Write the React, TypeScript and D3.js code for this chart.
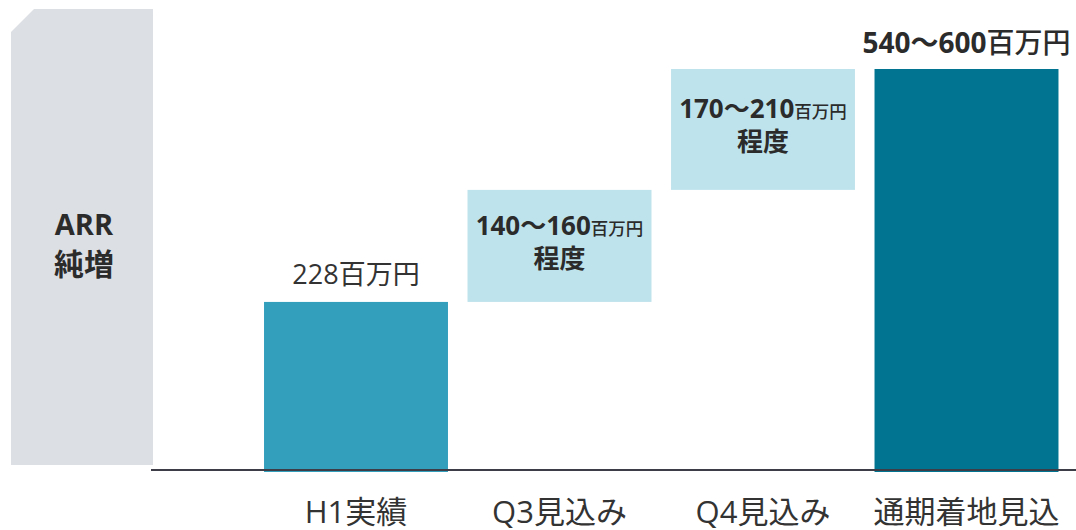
import React from "react";
import * as d3 from "d3";

const categories = ["H1実績", "Q3見込み", "Q4見込み", "通期着地見込"];
const increments = [228, 152, 164, 544];
const isTotal = [false, false, false, true];
const labelMain = ["228", "140～160", "170～210", "540～600"];
const labelUnit = ["百万円", "百万円", "百万円", "百万円"];
const labelSub = ["", "程度", "程度", ""];
const colors = ["#349FBD", "#BFE3EC", "#BFE3EC", "#007490"];

const W = 1076;
const H = 530;
const FONT = "'Open Sans', 'Noto Sans CJK JP', sans-serif";

export default function App() {
  const x = d3
    .scaleBand<string>()
    .domain(categories)
    .range([254.25, 1068.25])
    .paddingInner(0.096)
    .paddingOuter(0.048);
  const y = d3.scaleLinear().domain([0, 544]).range([470, 69]);

  let running = 0;
  const bars = categories.map((c, i) => {
    let y0: number, y1: number;
    if (isTotal[i]) {
      y0 = 0;
      y1 = increments[i];
    } else {
      y0 = running;
      y1 = running + increments[i];
      running = y1;
    }
    return { c, i, y0, y1 };
  });

  return (
    <svg width={W} height={H} style={{ position: "absolute", left: 0, top: 0, display: "block" }}>
      <rect width={W} height={H} fill="#ffffff" />
      {/* left panel */}
      <path d="M11,32 L34,9 L153,9 L153,465 L11,465 Z" fill="#DCDFE4" />
      <text x={84} y={235} textAnchor="middle" fontFamily={FONT} fontWeight={700} fontSize={29} fill="#2b2b2b">
        ARR
      </text>
      <text x={84} y={275} textAnchor="middle" fontFamily={FONT} fontWeight={700} fontSize={30} fill="#2b2b2b">
        純増
      </text>

      {bars.map((b) => {
        const bx = x(b.c)!;
        const bw = x.bandwidth();
        const top = y(b.y1);
        const bottom = b.y0 === 0 ? 472 : y(b.y0);
        return (
          <rect key={b.c} x={bx} y={top} width={bw} height={bottom - top} fill={colors[b.i]} />
        );
      })}

      <line x1={151} x2={W} y1={470} y2={470} stroke="#3d3d47" strokeWidth={2} />

      {bars.map((b) => {
        const cx = x(b.c)! + x.bandwidth() / 2;
        const top = y(b.y1);
        const bottom = y(b.y0);
        if (b.i === 0) {
          return (
            <text key={"l" + b.c} x={cx} y={top - 18} textAnchor="middle" fontFamily={FONT} fontSize={27} fill="#333">
              {labelMain[b.i]}
              {labelUnit[b.i]}
            </text>
          );
        }
        if (isTotal[b.i]) {
          return (
            <text key={"l" + b.c} x={cx} y={top - 16} textAnchor="middle" fontFamily={FONT} fontWeight={700} fontSize={28} fill="#2b2b2b">
              {labelMain[b.i]}
              <tspan fontWeight={500}>{labelUnit[b.i]}</tspan>
            </text>
          );
        }
        const mid = (top + bottom) / 2;
        return (
          <g key={"l" + b.c}>
            <text x={cx} y={mid - 11} textAnchor="middle" fontFamily={FONT} fontWeight={700} fontSize={26} fill="#2b2b2b">
              {labelMain[b.i]}
              <tspan fontSize={17.5} fontWeight={500}>{labelUnit[b.i]}</tspan>
            </text>
            <text x={cx} y={mid + 22} textAnchor="middle" fontFamily={FONT} fontWeight={700} fontSize={26} fill="#2b2b2b">
              {labelSub[b.i]}
            </text>
          </g>
        );
      })}

      {categories.map((c) => (
        <text key={"c" + c} x={x(c)! + x.bandwidth() / 2} y={523} textAnchor="middle" fontFamily={FONT} fontSize={31} fill="#333">
          {c}
        </text>
      ))}
    </svg>
  );
}
